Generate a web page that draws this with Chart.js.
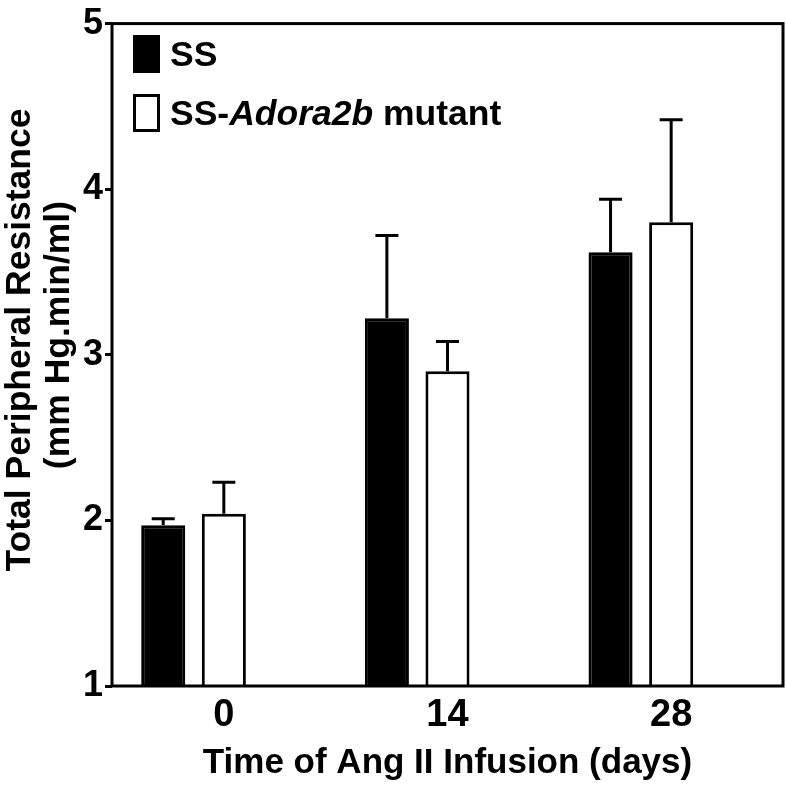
<!DOCTYPE html>
<html>
<head>
<meta charset="utf-8">
<script src="https://cdn.jsdelivr.net/npm/chart.js@4"></script>
<style>
  html, body { margin: 0; padding: 0; background: #fff; }
  #wrap { width: 786px; height: 786px; }
</style>
</head>
<body>
<div id="wrap"><canvas id="tprChart" width="786" height="786"></canvas></div>
<script>
const days = ["0", "14", "28"];
const ssMean = [1.97, 3.22, 3.62];
const ssSem = [0.04, 0.50, 0.32];
const mutMean = [2.04, 2.90, 3.80];
const mutSem = [0.19, 0.18, 0.62];
const yTicks = [1, 2, 3, 4, 5];

const FONT = "'Liberation Sans', Arial, sans-serif";

// upward-only error bars, like the Prism original
const errorBars = {
  id: "errorBars",
  afterDatasetsDraw(chart) {
    const ctx = chart.ctx;
    const y = chart.scales.y;
    chart.data.datasets.forEach((ds, i) => {
      if (!ds.sem) return;
      const meta = chart.getDatasetMeta(i);
      meta.data.forEach((bar, j) => {
        const top = y.getPixelForValue(ds.data[j] + ds.sem[j]);
        ctx.save();
        ctx.strokeStyle = "#000";
        ctx.lineWidth = 3;
        ctx.beginPath();
        ctx.moveTo(bar.x, bar.y);
        ctx.lineTo(bar.x, top);
        ctx.moveTo(bar.x - 11.5, top);
        ctx.lineTo(bar.x + 11.5, top);
        ctx.stroke();
        ctx.restore();
      });
    });
  }
};

// closed box round the plot
const frame = {
  id: "frame",
  afterDraw(chart) {
    const a = chart.chartArea;
    const ctx = chart.ctx;
    ctx.save();
    ctx.strokeStyle = "#000";
    ctx.lineWidth = 3;
    ctx.strokeRect(a.left, a.top, a.right - a.left, a.bottom - a.top);
    ctx.restore();
  }
};

// legend sits inside the plot, top left
const insideLegend = {
  id: "insideLegend",
  afterDraw(chart) {
    const ctx = chart.ctx;
    const x0 = chart.chartArea.left + 21;
    ctx.save();
    ctx.textBaseline = "alphabetic";
    ctx.fillStyle = "#000";
    ctx.fillRect(x0, 35, 27, 38);
    ctx.lineWidth = 3;
    ctx.strokeStyle = "#000";
    ctx.strokeRect(x0 + 1.5, 95.5, 24, 35);
    ctx.font = "bold 35.5px " + FONT;
    ctx.fillText("SS", x0 + 37, 66);
    let tx = x0 + 37;
    const parts = [["SS-", "bold"], ["Adora2b", "italic bold"], [" mutant", "bold"]];
    parts.forEach(p => {
      ctx.font = p[1] + " 35.5px " + FONT;
      ctx.fillText(p[0], tx, 125);
      tx += ctx.measureText(p[0]).width;
    });
    ctx.restore();
  }
};

new Chart(document.getElementById("tprChart"), {
  type: "bar",
  data: {
    labels: days,
    datasets: [
      {
        label: "SS",
        data: ssMean,
        sem: ssSem,
        backgroundColor: "#000",
        borderColor: "#000",
        borderWidth: 3
      },
      {
        label: "SS-Adora2b mutant",
        data: mutMean,
        sem: mutSem,
        backgroundColor: "#fff",
        borderColor: "#000",
        borderWidth: 3
      },
      {
        // empty slot so the pair sits left of the tick, as in the original
        label: "",
        data: [null, null, null],
        backgroundColor: "rgba(0,0,0,0)"
      }
    ]
  },
  options: {
    responsive: false,
    animation: false,
    categoryPercentage: 0.813,
    barPercentage: 0.727,
    layout: { padding: { top: 17, right: 3, bottom: 0, left: 0 } },
    plugins: {
      legend: { display: false },
      tooltip: { enabled: false }
    },
    scales: {
      x: {
        grid: { display: false, drawTicks: false },
        border: { display: false },
        ticks: {
          color: "#000",
          padding: 7,
          font: { family: FONT, size: 38, weight: "bold" }
        },
        title: {
          display: true,
          text: "Time of Ang II Infusion (days)",
          color: "#000",
          padding: { top: 0, bottom: 2 },
          font: { family: FONT, size: 35, weight: "bold" }
        },
        afterFit(scale) { scale.height = 100; }
      },
      y: {
        min: 1,
        max: 5,
        afterBuildTicks(scale) { scale.ticks = yTicks.map(v => ({ value: v })); },
        grid: {
          drawOnChartArea: false,
          color: "#000",
          lineWidth: 3,
          tickLength: 7
        },
        border: { display: false },
        ticks: {
          color: "#000",
          padding: 2,
          font: { family: FONT, size: 36, weight: "bold" }
        },
        title: {
          display: true,
          // leading spaces nudge the rotated lines up a little, as in the original
          text: ["   Total Peripheral Resistance", "    (mm Hg.min/ml)"],
          color: "#000",
          padding: { top: 0, bottom: 0 },
          font: { family: FONT, size: 35.5, weight: "bold", lineHeight: 1.12 }
        },
        afterFit(scale) { scale.width = 112; }
      }
    }
  },
  plugins: [errorBars, frame, insideLegend]
});
</script>
</body>
</html>
